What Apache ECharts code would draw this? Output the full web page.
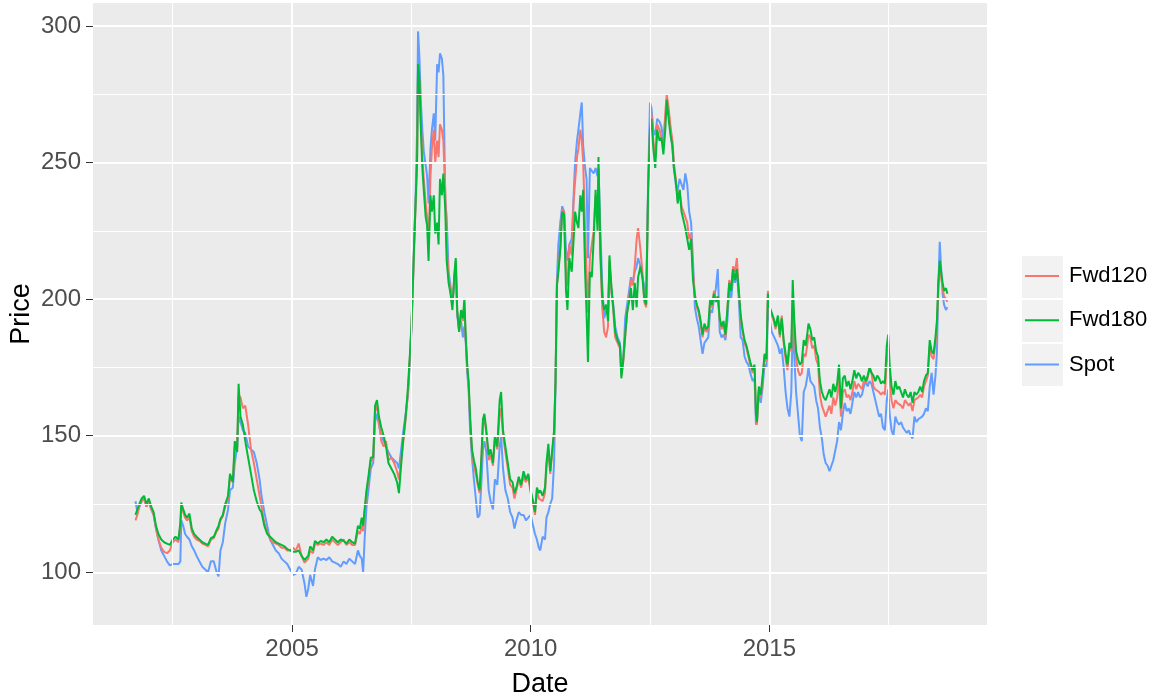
<!DOCTYPE html>
<html>
<head>
<meta charset="utf-8">
<script src="https://cdn.jsdelivr.net/npm/echarts@6/dist/echarts.min.js"></script>
<style>
  html, body { margin: 0; padding: 0; background: #fff; }
  #chart { width: 1161px; height: 699px; }
</style>
</head>
<body>
<div id="chart"></div>
<script>
// decimal years
const dates = [
  2001.72, 2001.76, 2001.80, 2001.85, 2001.90, 2001.95, 2002.00, 2002.05, 2002.10, 2002.15,
  2002.20, 2002.26, 2002.32, 2002.38, 2002.44, 2002.50, 2002.56, 2002.62, 2002.66, 2002.68,
  2002.72, 2002.76, 2002.80, 2002.85, 2002.90, 2002.95, 2003.00, 2003.06, 2003.12, 2003.18,
  2003.24, 2003.30, 2003.36, 2003.42, 2003.46, 2003.50, 2003.55, 2003.60, 2003.66, 2003.70,
  2003.76, 2003.80, 2003.85, 2003.88, 2003.92, 2003.97, 2004.02, 2004.08, 2004.14, 2004.20, 2004.26,
  2004.32, 2004.36, 2004.42, 2004.48, 2004.54, 2004.60, 2004.66, 2004.72, 2004.78, 2004.84, 2004.90, 2004.96,
  2005.02, 2005.08, 2005.14, 2005.20, 2005.26, 2005.30, 2005.34, 2005.38, 2005.44, 2005.48, 2005.54, 2005.60, 2005.66,
  2005.72, 2005.78, 2005.84, 2005.90, 2005.96, 2006.02, 2006.08, 2006.14, 2006.20, 2006.26, 2006.32,
  2006.38, 2006.42, 2006.46, 2006.49, 2006.52, 2006.56, 2006.60, 2006.65, 2006.70, 2006.74, 2006.78, 2006.82, 2006.87, 2006.92, 2006.97,
  2007.02, 2007.08, 2007.14, 2007.20, 2007.24, 2007.28, 2007.32, 2007.38, 2007.43, 2007.47, 2007.50,
  2007.53, 2007.56, 2007.59, 2007.62, 2007.64, 2007.67, 2007.70, 2007.73, 2007.76, 2007.80, 2007.83, 2007.86, 2007.90, 2007.93, 2007.97, 2008.00,
  2008.04, 2008.07, 2008.10, 2008.14, 2008.17, 2008.21, 2008.24, 2008.28, 2008.32, 2008.36, 2008.40, 2008.43, 2008.46, 2008.50,
  2008.54, 2008.58, 2008.61, 2008.64, 2008.67, 2008.70, 2008.73, 2008.77, 2008.81, 2008.85, 2008.89, 2008.93, 2008.97,
  2009.00, 2009.03, 2009.07, 2009.12, 2009.16, 2009.21, 2009.25, 2009.30, 2009.35, 2009.38, 2009.42, 2009.47,
  2009.52, 2009.57, 2009.62, 2009.66, 2009.70, 2009.75, 2009.80, 2009.85, 2009.90, 2009.95, 2010.00,
  2010.05, 2010.09, 2010.13, 2010.17, 2010.20, 2010.25, 2010.30, 2010.33, 2010.37, 2010.41, 2010.45, 2010.49,
  2010.52, 2010.55, 2010.58, 2010.62, 2010.66, 2010.70, 2010.74, 2010.77, 2010.81, 2010.86, 2010.90, 2010.93, 2010.97, 2011.00,
  2011.04, 2011.07, 2011.10, 2011.14, 2011.17, 2011.20, 2011.24, 2011.28, 2011.32, 2011.36, 2011.40, 2011.42, 2011.46, 2011.50,
  2011.54, 2011.58, 2011.62, 2011.65, 2011.69, 2011.73, 2011.77, 2011.82, 2011.87, 2011.90, 2011.94, 2011.98,
  2012.02, 2012.06, 2012.10, 2012.14, 2012.18, 2012.22, 2012.25, 2012.30, 2012.34, 2012.38, 2012.42,
  2012.46, 2012.50, 2012.53, 2012.57, 2012.61, 2012.65, 2012.70, 2012.74, 2012.78, 2012.82, 2012.85, 2012.89, 2012.93, 2012.97,
  2013.00, 2013.04, 2013.08, 2013.12, 2013.16, 2013.20, 2013.24, 2013.28, 2013.32, 2013.36, 2013.40, 2013.44, 2013.48,
  2013.52, 2013.56, 2013.60, 2013.64, 2013.68, 2013.72, 2013.76, 2013.80, 2013.84, 2013.88, 2013.92, 2013.96, 2014.00,
  2014.04, 2014.08, 2014.12, 2014.16, 2014.20, 2014.24, 2014.28, 2014.32, 2014.36, 2014.40, 2014.44, 2014.48,
  2014.52, 2014.56, 2014.60, 2014.65, 2014.69, 2014.72, 2014.74, 2014.78, 2014.82, 2014.86, 2014.90, 2014.94, 2014.97,
  2015.01, 2015.05, 2015.09, 2015.13, 2015.18, 2015.22, 2015.26, 2015.30, 2015.34, 2015.38, 2015.42, 2015.46,
  2015.49, 2015.52, 2015.56, 2015.60, 2015.64, 2015.68, 2015.72, 2015.76, 2015.80, 2015.82, 2015.86, 2015.90, 2015.94,
  2015.98, 2016.02, 2016.06, 2016.10, 2016.14, 2016.18, 2016.22, 2016.26, 2016.30, 2016.34, 2016.38, 2016.42, 2016.46,
  2016.50, 2016.54, 2016.58, 2016.62, 2016.66, 2016.70, 2016.74, 2016.78, 2016.82, 2016.86, 2016.90, 2016.94, 2016.98,
  2017.02, 2017.06, 2017.10, 2017.14, 2017.18, 2017.22, 2017.26, 2017.30, 2017.34, 2017.38, 2017.42, 2017.46, 2017.49,
  2017.52, 2017.56, 2017.60, 2017.64, 2017.68, 2017.72, 2017.76, 2017.80, 2017.84, 2017.88, 2017.92, 2017.96, 2018.00,
  2018.04, 2018.08, 2018.12, 2018.16, 2018.20, 2018.24, 2018.28, 2018.32, 2018.36, 2018.40, 2018.44, 2018.48,
  2018.51, 2018.54, 2018.57, 2018.60, 2018.63, 2018.66, 2018.70, 2018.73
]

const fwd120 = [
  119, 121, 124, 126, 127, 124, 126, 123, 121, 116,
  112, 109, 107.5, 107, 108, 111, 112, 111, 117, 124,
  122, 120, 119, 120, 115, 113, 112, 111.5, 110.5, 110,
  109.5, 112, 112.5, 115, 116, 119, 120.5, 124, 127, 135,
  133, 146, 145, 165, 164, 160, 161, 154, 145, 140, 134,
  128, 124, 118, 115, 112, 111, 110.5, 110, 109, 109, 108, 108,
  109, 108, 110.5, 106, 103.5, 104, 105, 108, 107, 110.5, 110, 110.5, 110,
  111, 110, 112, 111, 110, 111, 112, 110, 111, 110, 110,
  115, 114, 117, 115, 122, 129, 134, 141, 141, 159, 161, 155, 148, 146, 148,
  141, 142, 140, 137, 134, 140, 146, 156, 166, 179, 189,
  204, 220, 235, 252, 285, 279, 264, 252, 244, 235, 230, 220, 245, 255, 262, 250,
  258, 252, 264, 262, 258, 240, 220, 208, 203, 198, 208, 214, 196, 188,
  195, 192, 199, 185, 175, 168, 156, 144, 139, 136, 132, 129, 142,
  155, 156, 151, 141, 143, 139, 149, 145, 158, 160, 150, 144,
  138, 132, 131, 127, 130, 134, 131, 135, 133, 135, 129,
  125, 121, 130, 127, 127, 126, 129, 138, 145, 136, 136, 151,
  170, 205, 211, 219, 233, 232, 210, 205, 220, 216, 236, 243, 252, 255,
  262, 258, 250, 225, 210, 195, 215, 215, 225, 238, 228, 244, 215, 197,
  188, 186, 190, 214, 203, 196, 186, 184, 182, 172, 177, 186,
  195, 200, 207, 205, 212, 222, 226, 218, 210, 199, 197,
  240, 262, 268, 258, 252, 264, 262, 262, 256, 268, 275, 270, 263, 258,
  250, 244, 236, 240, 234, 232, 230, 228, 222, 224, 210, 202, 197,
  195, 191, 186, 190, 188, 189, 199, 197, 203, 199, 201, 192, 189,
  191, 186, 196, 207, 204, 212, 210, 215, 203, 193, 188, 184,
  182, 179, 176, 173, 175, 157, 154, 167, 164, 171, 179, 177, 203,
  196, 194, 192, 189, 193, 186, 194, 184, 178, 174, 182, 181,
  200, 190, 178, 174, 172, 173, 180, 179, 184, 187, 186, 182, 183,
  178, 176, 165, 161, 159, 157, 159, 161, 158, 164, 161, 164, 171,
  157, 166, 167, 164, 165, 163, 166, 170, 167, 169, 168, 167, 170,
  169, 171, 175, 173, 168, 167, 167, 166, 165, 166, 165, 178, 182,
  170, 163, 160, 163, 162, 162, 161, 160, 163, 162, 161, 162, 159,
  163, 163, 164, 165, 164, 168, 170, 172, 183, 179, 178, 184,
  190, 204, 212, 208, 204, 201, 200, 199
]

const fwd180 = [
  121, 123, 125, 127, 128, 125, 127, 124, 122, 117,
  114, 112, 111, 110.5, 110, 112, 113, 112, 118, 125.5,
  123, 121, 120, 121.5, 116, 114, 113, 112, 111, 110.5,
  110, 112.5, 113, 115.5, 117, 119.5, 121, 125, 128, 136,
  133, 148, 144, 169, 157, 154, 148, 142, 136, 130, 126,
  123, 122, 117, 114, 113, 112, 111, 110.5, 110, 109.5, 108.5, 108,
  107.5, 107.5, 108, 106, 104.5, 105, 106, 109.5, 108, 111.5, 110.5, 111.5, 111,
  112, 111, 113, 112, 111, 112, 111.5, 110.5, 112, 111, 110.5,
  117, 116, 120, 117, 123, 130, 135, 142, 142, 161, 163, 157, 153, 150, 146,
  140, 138, 136, 133, 129, 138, 147, 157, 168, 180, 190,
  205, 221, 236, 250, 286, 280, 262, 248, 240, 230, 227, 214, 238, 232, 238, 224,
  228, 220, 244, 238, 246, 233, 214, 206, 202, 196, 209, 215, 196, 188,
  196, 193, 200, 186, 176, 170, 157, 145, 141, 138, 133, 130, 143,
  156, 158, 152, 143, 145, 140, 150, 146, 163, 166, 152, 146,
  140, 134, 133, 129, 131, 135, 132, 137, 134, 136, 130,
  126, 122, 131, 129, 130, 128, 131, 140, 147, 137, 137, 152,
  170, 205, 210, 218, 232, 231, 203, 196, 215, 210, 222, 232, 228, 226,
  238, 232, 240, 210, 195, 177, 210, 208, 222, 240, 225, 252, 218, 200,
  196, 198, 192, 216, 205, 197, 188, 185, 183, 171, 178, 187,
  195, 199, 204, 196, 206, 197, 208, 212, 208, 200, 198,
  240, 262, 266, 255, 248, 262, 258, 259, 253, 262, 273, 266, 260, 256,
  248, 243, 235, 240, 232, 229, 226, 222, 218, 222, 207, 201, 198,
  196, 192, 187, 191, 189, 190, 200, 198, 202, 199, 201, 193, 190,
  192, 187, 196, 206, 203, 211, 207, 211, 203, 194, 189, 185,
  183, 180, 177, 174, 176, 158, 155, 168, 165, 172, 180, 178, 202,
  197, 195, 193, 190, 194, 187, 193, 185, 180, 176, 184, 182,
  207, 193, 181, 178, 176, 177, 185, 183, 188, 191, 189, 185, 186,
  181, 179, 170, 166, 164, 163, 165, 167, 164, 169, 166, 169, 176,
  160, 171, 172, 168, 170, 167, 170, 174, 171, 173, 172, 170, 172,
  170, 172, 175, 173, 172, 170, 172, 171, 169, 170, 169, 183, 187,
  176, 168, 165, 170, 167, 168, 166, 164, 167, 165, 164, 166, 162,
  166, 165, 166, 168, 166, 170, 172, 173, 185, 181, 180, 186,
  192, 206, 214, 210, 206, 203, 204, 202
]

const spot = [
  126, 122, 124, 126, 127, 124, 126, 123, 121, 116,
  112, 108, 106, 104, 102.5, 103, 103, 103, 104, 119,
  117, 114, 113, 112, 109.5, 108, 106, 104, 102, 101,
  100, 104, 104, 100, 98.5, 108, 111, 118, 123, 130,
  131, 140, 146, 157, 155, 152, 151, 146, 145, 144, 140,
  134, 128, 122, 117, 112, 110, 108, 107, 105, 104, 103, 101,
  99, 99.5, 102, 101, 96, 91, 94, 99, 95, 101, 105.5, 104.5, 105,
  104.5, 105.5, 104, 103.5, 103, 102, 104, 103, 105, 104, 103,
  108, 106, 105, 100, 112, 124, 130, 138, 140, 155, 158, 154, 150, 148, 146,
  144, 142, 141, 140, 138, 144, 150, 158, 165, 178, 188,
  204, 222, 238, 262, 298, 288, 272, 262, 254, 249, 245, 235, 255, 262, 268, 258,
  286, 283, 290, 288, 282, 236, 230, 210, 205, 199, 206, 212, 194, 189,
  192, 186, 190, 184, 173, 167, 152, 142, 134, 127, 120, 121, 134,
  145, 148, 144, 130, 126, 123, 134, 132, 146, 150, 138, 130,
  127, 122, 120, 116, 119, 122, 121, 121, 119, 120, 121,
  117, 114, 112, 109, 108, 113, 112, 120, 122, 125, 127, 140,
  168, 207, 220, 228, 234, 232, 218, 214, 220, 222, 238, 250, 258, 262,
  268, 272, 256, 248, 244, 215, 248, 248, 246, 248, 245, 248, 225, 205,
  193, 196, 194, 212, 203, 198, 190, 186, 184, 176, 178, 193,
  198, 203, 208, 206, 210, 212, 215, 212, 208, 205, 200,
  242, 272, 270, 262, 260, 266, 265, 263, 258, 266, 272, 268, 262, 255,
  248, 242, 240, 244, 242, 240, 246, 242, 232, 228, 214, 197, 193,
  190, 185, 180, 184, 185, 186, 196, 195, 200, 204, 211, 188, 186,
  187, 185, 192, 204, 200, 208, 206, 210, 200, 186, 185, 179,
  177, 176, 173, 170, 171, 154, 155, 166, 162, 168, 176, 175, 198,
  192, 188, 188, 185, 183, 180, 182, 175, 166, 160, 157, 166,
  192, 180, 166, 158, 150, 148, 166, 168, 172, 175, 170, 169, 168,
  163, 160, 153, 149, 143, 140, 139, 137, 137, 141, 141, 148, 155,
  152, 158, 162, 159, 160, 158, 162, 166, 164, 166, 164, 165, 168,
  170, 168, 170, 169, 166, 163, 160, 157, 158, 153, 152, 163, 167,
  158, 152, 150, 157, 155, 154, 155, 153, 152, 151, 152, 150, 149,
  157, 155, 156, 156, 157, 158, 160, 159, 168, 173, 165, 172,
  180, 204, 221, 211, 202, 198, 196, 197
]

const xTicks = [2005, 2010, 2015]
const xMinor = [2002.5, 2007.5, 2012.5, 2017.5]
const yTicks = [100, 150, 200, 250, 300]
const yMinor = [125, 175, 225, 275]

const FONT = 'Liberation Sans, Arial, sans-serif'
const COLORS = { Fwd120: '#F8766D', Fwd180: '#00BA38', Spot: '#619CFF' }

const chart = echarts.init(document.getElementById('chart'))

// ggplot 风格的白色网格线（主线粗、次线细）
const gridLines = [
  ...xTicks.map(v => ({ xAxis: v, lineStyle: { width: 2 } })),
  ...xMinor.map(v => ({ xAxis: v, lineStyle: { width: 1.1 } })),
  ...yTicks.map(v => ({ yAxis: v, lineStyle: { width: 2 } })),
  ...yMinor.map(v => ({ yAxis: v, lineStyle: { width: 1.1 } })),
]

function lineSeries(name, values, z) {
  return {
    name,
    type: 'line',
    z,
    data: dates.map((d, i) => [d, values[i]]),
    showSymbol: false,
    symbol: 'none',
    lineStyle: { width: 2, color: COLORS[name] },
    itemStyle: { color: COLORS[name] },
    emphasis: { disabled: true },
  }
}

chart.setOption({
  animation: false,
  backgroundColor: '#ffffff',
  grid: {
    left: 93, right: 174, top: 3, bottom: 74,
    outerBoundsMode: 'none',
    containLabel: false,
    show: true, backgroundColor: '#EBEBEB', borderWidth: 0,
  },
  xAxis: {
    type: 'value',
    min: 2000.83, max: 2019.56,
    name: 'Date',
    nameLocation: 'middle',
    nameGap: 46,
    nameMoveOverlap: false,
    nameTextStyle: { fontSize: 27, color: '#000', fontFamily: FONT },
    axisLine: { show: false },
    splitLine: { show: false },
    axisTick: { customValues: xTicks, length: 7, lineStyle: { color: '#333333', width: 1 } },
    axisLabel: {
      customValues: xTicks, fontSize: 24, color: '#4D4D4D', margin: 12, fontFamily: FONT,
      formatter: v => String(v),
    },
  },
  yAxis: {
    type: 'value',
    min: 80.7, max: 308.4,
    name: 'Price',
    nameLocation: 'middle',
    nameGap: 58,
    nameMoveOverlap: false,
    nameTextStyle: { fontSize: 27, color: '#000', fontFamily: FONT },
    axisLine: { show: false },
    splitLine: { show: false },
    axisTick: { customValues: yTicks, length: 7, lineStyle: { color: '#333333', width: 1 } },
    axisLabel: {
      customValues: yTicks, fontSize: 24, color: '#4D4D4D', margin: 12, fontFamily: FONT,
      formatter: v => String(v),
    },
  },
  legend: {
    data: ['Fwd120', 'Fwd180', 'Spot'],
    orient: 'vertical',
    left: 1025, top: 265,
    padding: 0,
    itemGap: 22.3,
    itemWidth: 34, itemHeight: 2,
    icon: 'rect',
    selectedMode: false,
    textStyle: { fontSize: 22, color: '#000', lineHeight: 22, padding: [0, 0, 0, 5], fontFamily: FONT },
  },
  // 图例键的浅灰底框
  graphic: [0, 1, 2].map(i => ({
    type: 'rect', z: 0, silent: true,
    shape: { x: 1022, y: 256 + i * 44, width: 41, height: 42 },
    style: { fill: '#F2F2F2' },
  })),
  series: [
    {
      type: 'line', data: [], z: 1, silent: true,
      markLine: {
        silent: true, animation: false,
        symbol: ['none', 'none'],
        label: { show: false },
        emphasis: { disabled: true },
        lineStyle: { color: '#ffffff', type: 'solid' },
        data: gridLines,
      },
    },
    lineSeries('Spot', spot, 2),
    lineSeries('Fwd120', fwd120, 3),
    lineSeries('Fwd180', fwd180, 4),
  ],
})
</script>
</body>
</html>
